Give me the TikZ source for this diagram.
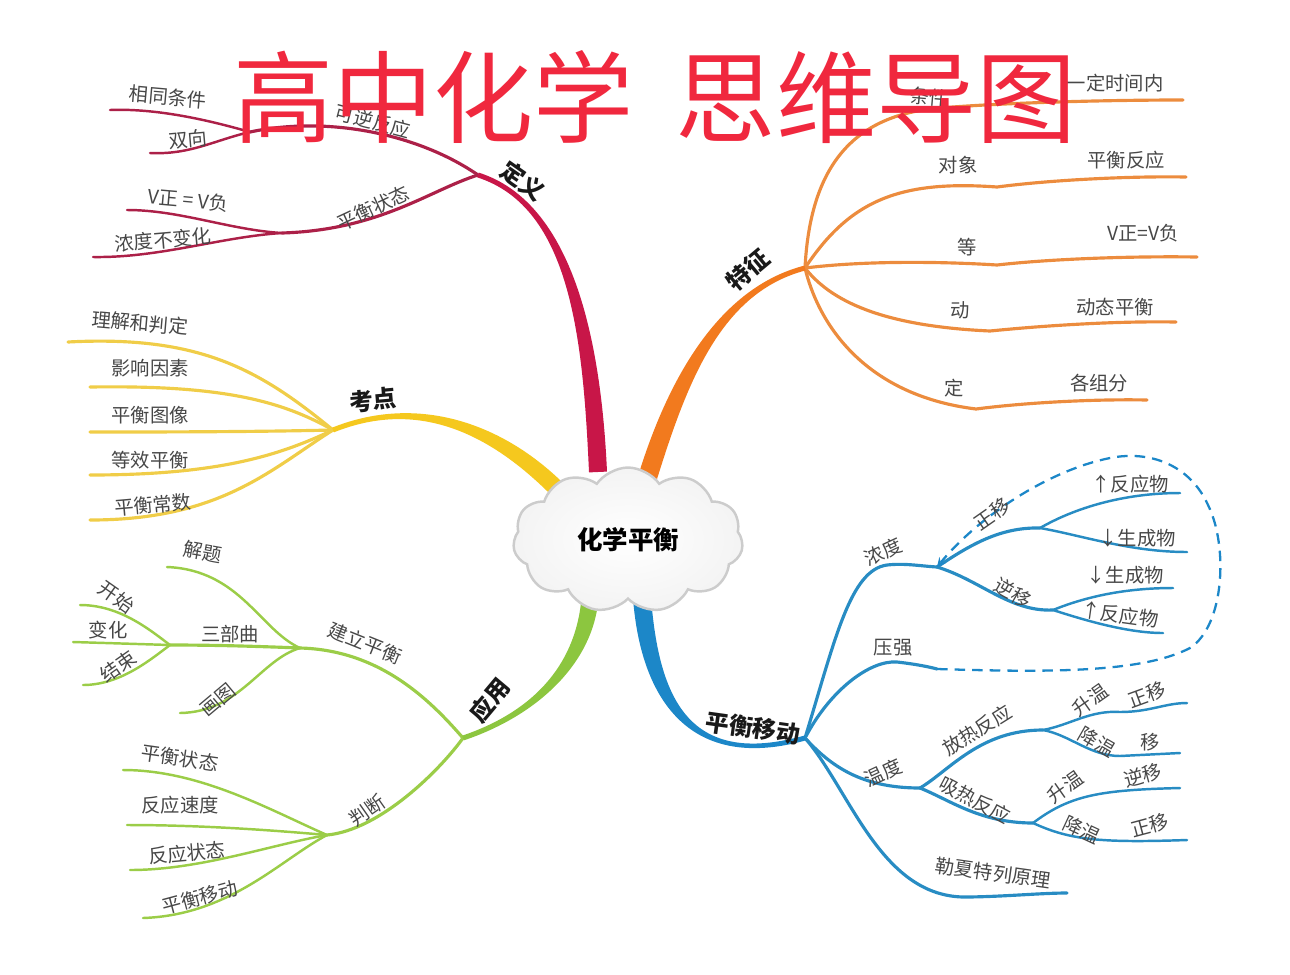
\documentclass[tikz,border=0pt]{standalone}
\usepackage{fontspec}
\setmainfont{Noto Sans CJK SC}
\usetikzlibrary{calc,shapes.symbols,arrows}
\definecolor{dyred}{RGB}{200,22,72}
\definecolor{dysub}{RGB}{172,32,72}
\definecolor{tzorange}{RGB}{242,122,30}
\definecolor{tzsub}{RGB}{236,140,62}
\definecolor{kdyellow}{RGB}{245,200,30}
\definecolor{kdsub}{RGB}{240,205,72}
\definecolor{yygreen}{RGB}{140,198,63}
\definecolor{yysub}{RGB}{155,205,72}
\definecolor{phblue}{RGB}{28,135,200}
\definecolor{phsub}{RGB}{40,140,195}
\definecolor{titlered}{RGB}{240,40,62}
% tapered main branch: colour, start, control 1, control 2, end, half width at start, at end
\newcommand\mainbranch[7]{%
 \fill[#1] ($(#2)!#6!90:(#3)$) .. controls ($(#3)!#6!-90:(#2)$) and ($(#4)!#7!90:(#5)$) .. ($(#5)!#7!-90:(#4)$)
   -- ($(#5)!#7!90:(#4)$) .. controls ($(#4)!#7!-90:(#5)$) and ($(#3)!#6!90:(#2)$) .. ($(#2)!#6!-90:(#3)$) -- cycle;}
\begin{document}
\begin{tikzpicture}[x=0.02cm, y=-0.02cm,
  lbl/.style={font=\fontsize{11}{13}\selectfont, text=black!72, inner sep=1pt},
  mainlbl/.style={font=\bfseries\fontsize{13.5}{15}\selectfont, text=black!90, inner sep=1pt},
  sub/.style={line width=1.8pt, line cap=round},
  leaf/.style={line width=1.4pt, line cap=round},
  cloudbox/.style={cloud, cloud puffs=11, cloud puff arc=110, aspect=1.6,
    minimum width=4.6cm, minimum height=2.9cm, draw=gray!40, line width=1.4pt,
    shade, inner color=white, outer color=gray!9,
    font=\bfseries\fontsize{14.5}{16}\selectfont, text=black},
  titletext/.style={font=\fontsize{57}{60}\selectfont, text=titlered, inner sep=0pt},
  backarrow/.style={phblue, line width=1.3pt, dash pattern=on 6pt off 4pt, -stealth}]
\useasboundingbox (0,0) rectangle (1290,974);

% ---- 定义
\coordinate (dy) at (478,175);
\coordinate (kn) at (250,132);
\coordinate (zt) at (282,233);
\coordinate (xt) at (110,110);
\coordinate (sx) at (150,153);
\coordinate (vv) at (127,210);
\coordinate (nd) at (93,257);
\draw[sub,dysub] (dy) .. controls (420,135) and (330,115) .. (kn);
\draw[leaf,dysub] (kn) .. controls (215,122) and (160,108) .. (xt);
\draw[leaf,dysub] (kn) .. controls (215,140) and (190,155) .. (sx);
\draw[sub,dysub] (dy) .. controls (430,190) and (380,230) .. (zt);
\draw[leaf,dysub] (zt) .. controls (230,230) and (180,210) .. (vv);
\draw[leaf,dysub] (zt) .. controls (220,237) and (160,258) .. (nd);
\mainbranch{dyred}{598,472}{592,340}{572,205}{dy}{0.18cm}{0.05cm}

% ---- 特征
\coordinate (tz) at (805,268);
\coordinate (tz1) at (1183,100);
\coordinate (tz2) at (1186,177);
\coordinate (tz3) at (1197,257);
\coordinate (tz4) at (1176,322);
\coordinate (tz5) at (1147,400);
\draw[sub,tzsub] (tz) .. controls (810,170) and (850,115) .. (940,108) .. controls (1000,103) and (1100,100) .. (tz1);
\draw[sub,tzsub] (tz) .. controls (850,200) and (900,180) .. (997,187) .. controls (1050,180) and (1130,176) .. (tz2);
\draw[sub,tzsub] (tz) .. controls (870,260) and (950,262) .. (997,265) .. controls (1050,259) and (1130,256) .. (tz3);
\draw[sub,tzsub] (tz) .. controls (830,300) and (880,326) .. (990,331) .. controls (1050,325) and (1120,321) .. (tz4);
\draw[sub,tzsub] (tz) .. controls (820,330) and (870,396) .. (976,409) .. controls (1030,402) and (1100,399) .. (tz5);
\mainbranch{tzorange}{648,476}{678,380}{720,290}{tz}{0.19cm}{0.05cm}

% ---- 考点
\coordinate (kd) at (333,430);
\coordinate (kd1) at (68,342);
\coordinate (kd2) at (90,387);
\coordinate (kd3) at (90,432);
\coordinate (kd4) at (90,475);
\coordinate (kd5) at (90,520);
\draw[sub,kdsub] (kd) .. controls (260,370) and (200,335) .. (kd1);
\draw[sub,kdsub] (kd) .. controls (280,400) and (220,385) .. (kd2);
\draw[sub,kdsub] (kd) .. controls (250,432) and (150,432) .. (kd3);
\draw[sub,kdsub] (kd) .. controls (280,455) and (220,475) .. (kd4);
\draw[sub,kdsub] (kd) .. controls (270,470) and (220,520) .. (kd5);
\mainbranch{kdyellow}{562,494}{500,430}{420,395}{kd}{0.17cm}{0.05cm}

% ---- 应用
\coordinate (yy) at (463,738);
\coordinate (jl) at (300,648);
\coordinate (jt) at (167,567);
\coordinate (sb) at (170,645);
\coordinate (ks) at (80,605);
\coordinate (bh) at (73,642);
\coordinate (js) at (83,685);
\coordinate (ht) at (180,713);
\coordinate (pd) at (327,835);
\coordinate (pd1) at (123,770);
\coordinate (pd2) at (127,825);
\coordinate (pd3) at (130,870);
\coordinate (pd4) at (143,918);
\draw[sub,yysub] (yy) .. controls (430,700) and (380,650) .. (jl);
\draw[leaf,yysub] (jl) .. controls (260,630) and (240,570) .. (jt);
\draw[sub,yysub] (jl) .. controls (250,646) and (210,645) .. (sb);
\draw[leaf,yysub] (sb) .. controls (150,630) and (120,605) .. (ks);
\draw[leaf,yysub] (sb) -- (bh);
\draw[leaf,yysub] (sb) .. controls (150,660) and (120,685) .. (js);
\draw[leaf,yysub] (jl) .. controls (260,660) and (240,712) .. (ht);
\draw[sub,yysub] (yy) .. controls (440,770) and (380,830) .. (pd);
\draw[leaf,yysub] (pd) .. controls (270,810) and (200,770) .. (pd1);
\draw[leaf,yysub] (pd) .. controls (270,830) and (200,825) .. (pd2);
\draw[leaf,yysub] (pd) .. controls (270,845) and (200,870) .. (pd3);
\draw[leaf,yysub] (pd) .. controls (280,860) and (230,915) .. (pd4);
\mainbranch{yygreen}{590,598}{585,660}{540,712}{yy}{0.17cm}{0.05cm}

% ---- 平衡移动
\coordinate (ph) at (805,738);
\coordinate (ndf) at (937,567);
\coordinate (zy) at (1040,528);
\coordinate (zy1) at (1180,493);
\coordinate (zy2) at (1187,552);
\coordinate (ny) at (1053,610);
\coordinate (ny1) at (1173,588);
\coordinate (ny2) at (1163,633);
\coordinate (yq) at (937,669);
\coordinate (wd) at (920,788);
\coordinate (fr) at (1043,730);
\coordinate (fr1) at (1187,703);
\coordinate (fr2) at (1180,753);
\coordinate (xr) at (1033,823);
\coordinate (xr1) at (1180,788);
\coordinate (xr2) at (1187,840);
\coordinate (lx) at (1067,893);
\draw[sub,phsub] (ph) .. controls (835,640) and (850,570) .. (887,565) .. controls (905,563) and (920,566) .. (ndf);
\draw[sub,phsub] (ndf) .. controls (970,545) and (1000,527) .. (zy);
\draw[leaf,phsub] (zy) .. controls (1080,505) and (1130,493) .. (zy1);
\draw[leaf,phsub] (zy) .. controls (1080,535) and (1130,552) .. (zy2);
\draw[sub,phsub] (ndf) .. controls (980,580) and (1010,612) .. (ny);
\draw[leaf,phsub] (ny) .. controls (1090,595) and (1130,588) .. (ny1);
\draw[leaf,phsub] (ny) .. controls (1090,622) and (1130,633) .. (ny2);
\draw[sub,phsub] (ph) .. controls (830,690) and (870,660) .. (897,662) .. controls (915,664) and (930,667) .. (yq);
\draw[sub,phsub] (ph) .. controls (830,765) and (860,788) .. (wd);
\draw[sub,phsub] (wd) .. controls (950,770) and (980,730) .. (fr);
\draw[leaf,phsub] (fr) .. controls (1070,725) and (1090,710) .. (1120,712) .. controls (1150,712) and (1165,703) .. (fr1);
\draw[leaf,phsub] (fr) .. controls (1070,735) and (1090,756) .. (1120,756) -- (fr2);
\draw[sub,phsub] (wd) .. controls (950,800) and (980,823) .. (xr);
\draw[leaf,phsub] (xr) .. controls (1070,795) and (1100,790) .. (xr1);
\draw[leaf,phsub] (xr) .. controls (1070,840) and (1100,843) .. (xr2);
\draw[sub,phsub] (ph) .. controls (850,790) and (880,895) .. (963,897) .. controls (1000,897) and (1040,893) .. (lx);
\draw[backarrow] (yq) .. controls (1040,672) and (1140,674) .. (1190,648) .. controls (1225,625) and (1228,545) .. (1208,505)
  .. controls (1190,465) and (1150,450) .. (1110,458) .. controls (1050,470) and (980,515) .. (ndf);
\mainbranch{phblue}{642,598}{650,700}{690,770}{ph}{0.18cm}{0.05cm}

% ---- centre
\node[cloudbox] (hx) at (628,540) {化学平衡};

% ---- labels
\node[mainlbl, rotate=-35] (l-dy) at (523,181) {定义};
\node[lbl, rotate=-15] (l-kn) at (373,121) {可逆反应};
\node[lbl, rotate=-5] (l-xt) at (168,97) {相同条件};
\node[lbl, rotate=5] (l-sx) at (188,139) {双向};
\node[lbl, rotate=25] (l-zt) at (373,208) {平衡状态};
\node[lbl, rotate=-5] (l-vv) at (188,200) {V正 = V负};
\node[lbl, rotate=5] (l-nd) at (163,240) {浓度不变化};

\node[mainlbl, rotate=40] (l-tz) at (748,270) {特征};
\node[lbl, rotate=-5] (l-tj) at (929,97) {条件};
\node[lbl] (l-tz1) at (1115,83) {一定时间内};
\node[lbl] (l-dx) at (958,165) {对象};
\node[lbl] (l-tz2) at (1126,160) {平衡反应};
\node[lbl] (l-dd) at (967,247) {等};
\node[lbl] (l-tz3) at (1143,233) {V正=V负};
\node[lbl] (l-dt) at (960,310) {动};
\node[lbl] (l-tz4) at (1115,307) {动态平衡};
\node[lbl] (l-dg) at (954,388) {定};
\node[lbl] (l-tz5) at (1099,383) {各组分};

\node[mainlbl, rotate=5] (l-kd) at (373,400) {考点};
\node[lbl, rotate=-5] (l-kd1) at (140,323) {理解和判定};
\node[lbl] (l-kd2) at (150,368) {影响因素};
\node[lbl] (l-kd3) at (150,415) {平衡图像};
\node[lbl] (l-kd4) at (150,460) {等效平衡};
\node[lbl, rotate=5] (l-kd5) at (153,505) {平衡常数};

\node[mainlbl, rotate=50] (l-yy) at (490,700) {应用};
\node[lbl, rotate=-22] (l-jl) at (365,643) {建立平衡};
\node[lbl, rotate=-10] (l-jt) at (203,552) {解题};
\node[lbl] (l-sb) at (230,634) {三部曲};
\node[lbl, rotate=-35] (l-ks) at (117,597) {开始};
\node[lbl] (l-bh) at (108,630) {变化};
\node[lbl, rotate=35] (l-js) at (118,666) {结束};
\node[lbl, rotate=40] (l-ht) at (218,700) {画图};
\node[lbl, rotate=35] (l-pd) at (367,810) {判断};
\node[lbl, rotate=-8] (l-pd1) at (180,758) {平衡状态};
\node[lbl] (l-pd2) at (180,805) {反应速度};
\node[lbl, rotate=5] (l-pd3) at (187,853) {反应状态};
\node[lbl, rotate=15] (l-pd4) at (200,897) {平衡移动};

\node[mainlbl, rotate=-8] (l-ph) at (753,728) {平衡移动};
\node[lbl, rotate=25] (l-nd2) at (883,552) {浓度};
\node[lbl, rotate=35] (l-zy) at (992,514) {正移};
\node[lbl] (l-zy1) at (1130,484) {↑反应物};
\node[lbl] (l-zy2) at (1137,538) {↓生成物};
\node[lbl, rotate=-30] (l-ny) at (1013,593) {逆移};
\node[lbl] (l-ny1) at (1125,575) {↓生成物};
\node[lbl, rotate=-8] (l-ny2) at (1120,615) {↑反应物};
\node[lbl] (l-yq) at (893,648) {压强};
\node[lbl, rotate=25] (l-wd) at (883,773) {温度};
\node[lbl, rotate=32] (l-fr) at (977,730) {放热反应};
\node[lbl, rotate=35] (l-fr1a) at (1090,700) {升温};
\node[lbl, rotate=20] (l-fr1) at (1147,695) {正移};
\node[lbl, rotate=-30] (l-fr2a) at (1097,742) {降温};
\node[lbl] (l-fr2) at (1150,742) {移};
\node[lbl, rotate=-28] (l-xr) at (975,800) {吸热反应};
\node[lbl, rotate=35] (l-xr1a) at (1065,787) {升温};
\node[lbl, rotate=15] (l-xr1) at (1143,775) {逆移};
\node[lbl, rotate=-25] (l-xr2a) at (1082,830) {降温};
\node[lbl, rotate=15] (l-xr2) at (1150,825) {正移};
\node[lbl, rotate=-8] (l-lx) at (993,873) {勒夏特列原理};

% ---- title
\node[titletext] (bt) at (655,97) {高中化学\hspace{0.42em}思维导图};
\end{tikzpicture}
\end{document}
